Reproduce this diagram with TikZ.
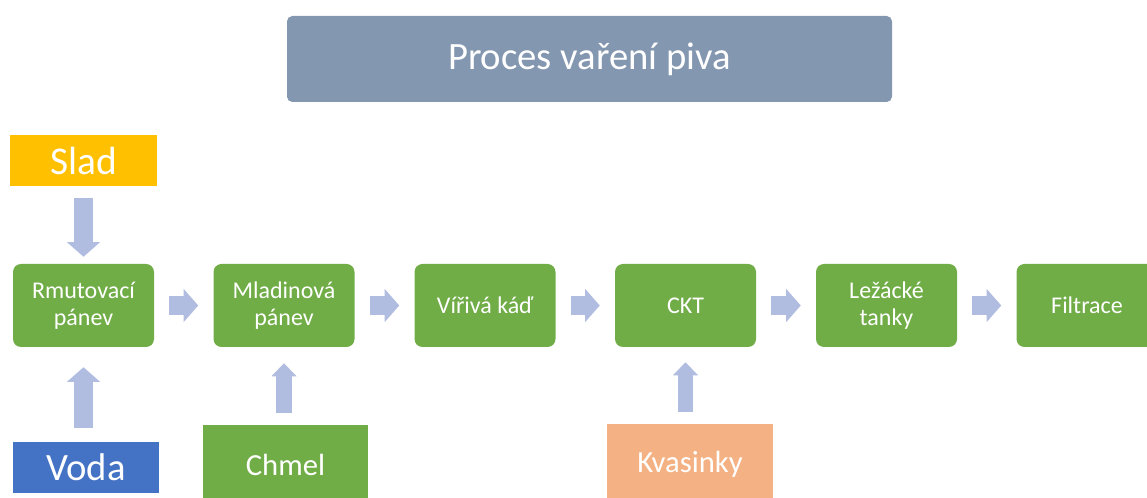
\documentclass[tikz,border=0pt]{standalone}
\usepackage{fontspec}
\setmainfont{Carlito}
\usetikzlibrary{arrows.meta}
\definecolor{stagegreen}{HTML}{70AD47}
\definecolor{titleblue}{HTML}{8497B0}
\definecolor{sladgold}{HTML}{FFC000}
\definecolor{vodablue}{HTML}{4472C4}
\definecolor{kvasorange}{HTML}{F4B183}
\definecolor{arrowblue}{RGB}{176,188,224}
\begin{document}
\begin{tikzpicture}[x=0.75pt, y=-0.75pt,
  stage/.style={fill=stagegreen, rounded corners=6pt, minimum width=105.75pt, minimum height=62.25pt,
    text=white, font=\fontsize{18}{20}\selectfont, align=center, inner sep=0pt},
  ingr/.style={text=white, inner sep=0pt},
  flow/.style={arrowblue, line width=14.5pt, -{Triangle[width=25pt, length=11pt, line width=0pt]},
    shorten <=11.25pt, shorten >=11.25pt},
  feed/.style={arrowblue, line width=11.5pt, -{Triangle[width=18.75pt, length=9.75pt, line width=0pt]}}]
  \useasboundingbox (0,0) rectangle (1147,498);
  \clip (0,0) rectangle (1147,498);

  \node[fill=titleblue, rounded corners=4pt, minimum width=453.75pt, minimum height=64.5pt,
    text=white, font=\fontsize{29}{34}\selectfont] (title) at (589.5,59) {Proces vaření piva};

  % brewing stages
  \node[stage] (rmut) at (83.5,305.5) {Rmutovací\\pánev};
  \node[stage] (mlad) at (284,305.5) {Mladinová\\pánev};
  \node[stage] (vir) at (485,305.5) {Vířivá káď};
  \node[stage] (ckt) at (685.5,305.5) {CKT};
  \node[stage] (lez) at (886.5,305.5) {Ležácké\\tanky};
  \node[stage] (filt) at (1087,305.5) {Filtrace};

  % ingredients
  \node[ingr, fill=sladgold, minimum width=110.25pt, minimum height=38.25pt,
    font=\fontsize{29.5}{34}\selectfont] (slad) at (83.5,160.5) {Slad};
  \node[ingr, fill=vodablue, minimum width=109.5pt, minimum height=38.25pt,
    font=\fontsize{29}{34}\selectfont] (voda) at (86,467.5) {Voda};
  \node[ingr, fill=stagegreen, minimum width=123.75pt, minimum height=60pt,
    font=\fontsize{23}{28}\selectfont] (chmel) at (285.5,465) {Chmel};
  \node[ingr, fill=kvasorange, minimum width=124.5pt, minimum height=60pt,
    font=\fontsize{23}{28}\selectfont] (kvas) at (690,464) {Kvasinky};

  \draw[flow, shorten <=9pt, shorten >=5.25pt] (slad) -- (rmut);
  \draw[flow, shorten <=10.5pt, shorten >=15pt] (voda.north -| rmut.south) -- (rmut.south);
  \foreach \a/\b in {rmut/mlad, mlad/vir, vir/ckt, ckt/lez, lez/filt}
    \draw[flow] (\a) -- (\b);
  \draw[feed, shorten <=9pt, shorten >=12pt] (chmel.north -| mlad.south) -- (mlad.south);
  \draw[feed, shorten <=9pt, shorten >=11.25pt] (kvas.north -| ckt.south) -- (ckt.south);
\end{tikzpicture}
\end{document}
